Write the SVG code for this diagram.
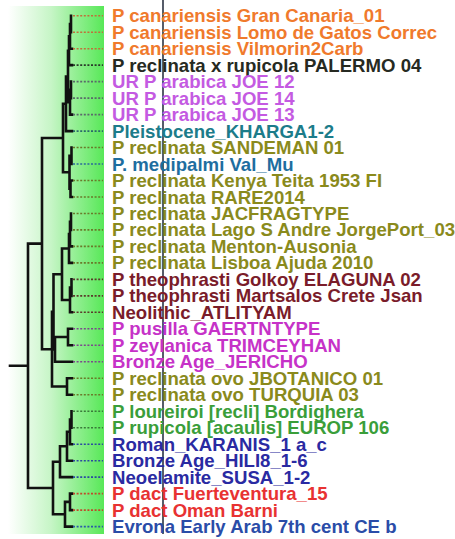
<svg xmlns="http://www.w3.org/2000/svg" width="455" height="539" viewBox="0 0 455 539">
<defs>
<linearGradient id="bg" x1="0" y1="0" x2="1" y2="0">
<stop offset="0" stop-color="#ffffff"/>
<stop offset="0.45" stop-color="#c6f5c6"/>
<stop offset="1" stop-color="#58e858"/>
</linearGradient>
<style>
.br{fill:none;stroke:#111;stroke-width:2.6;stroke-linecap:square}
.dl{stroke-width:1.6;stroke-dasharray:2 1.6;fill:none}
text{font-family:"Liberation Sans",Arial,sans-serif;font-weight:bold;font-size:18.6px}
.or{fill:#f07a2c}.or2{stroke:#c0703a}
.dk{fill:#262a22}.dk2{stroke:#2a3a2a}
.vi{fill:#c45ae2}.vi2{stroke:#5a6a6a}
.te{fill:#1c7c8a}.te2{stroke:#2a6a6a}
.ol{fill:#8a8a1c}.ol2{stroke:#6a7a2a}
.bl{fill:#1e6ea0}.bl2{stroke:#2a6a9a}
.rb{fill:#7a1c2a}.rb2{stroke:#5a3a2a}
.mg{fill:#c632c8}.mg2{stroke:#7a4a8a}
.gr{fill:#3a9e3a}.gr2{stroke:#3a7a3a}
.db{fill:#2a2aa2}.db2{stroke:#2a4aa0}
.rd{fill:#e83232}.rd2{stroke:#c04a2a}
.eb{fill:#2a4ca8}.eb2{stroke:#2a5aa8}
</style>
</defs>
<rect x="8" y="6" width="96" height="528" fill="url(#bg)"/>
<line x1="163" y1="0" x2="163" y2="534" stroke="#2c3444" stroke-width="1.6"/>
<g id="connectors">
<path class="br" d="M71 15.7V32.2 M70 24V48.7 M70 24H71 M70 48.7H72 M69 36.3V65.1 M69 36.3H70 M69 65.1H72 M71 81.6V98.1 M70 89.9V114.6 M70 89.9H71 M70 114.6H72 M68 50.7V102.2 M68 50.7H69 M68 102.2H70 M66 76.5V131.1 M66 76.5H68 M66 131.1H72 M71.5 147.5V164 M70.5 180.5V197 M70.5 180.5H72 M70.5 197H72 M69.5 155.75V188.75 M69.5 155.75H71.5 M69.5 188.75H70.5 M63 103.8V172.25 M63 103.8H66 M63 172.25H69.5 M71 213.5V229.9 M70 221.7V246.4 M70 221.7H71 M70 246.4H72 M69 234.05V262.9 M69 234.05H70 M69 262.9H72 M71.5 279.4V295.9 M70 287.65V312.3 M70 287.65H71.5 M70 312.3H72 M62 248.5V300 M62 248.5H69 M62 300H70 M68 328.8V345.3 M68 328.8H72 M68 345.3H72 M55 337.05V361.8 M55 337.05H68 M55 361.8H72 M53.5 274.25V349.4 M53.5 274.25H62 M53.5 349.4H55 M67 378.3V394.7 M67 378.3H72 M67 394.7H72 M52 311.8V386.5 M52 311.8H53.5 M52 386.5H67 M42 138V349.2 M42 138H63 M42 349.2H52 M71.5 411.2V427.7 M70 419.45V444.2 M70 419.45H71.5 M70 444.2H72 M67 431.8V460.7 M67 431.8H70 M67 460.7H72 M60 446.3V477.1 M60 446.3H67 M60 477.1H72 M70 493.6V510.1 M70 493.6H72 M70 510.1H72 M65 501.85V526.6 M65 501.85H70 M65 526.6H72 M53 461.7V514.2 M53 461.7H60 M53 514.2H65 M28 243.6V488 M28 243.6H42 M28 488H53 M10 365.8H28"/>
</g>
<g id="leaf01"><line class="dl or2" x1="73" y1="15.7" x2="103" y2="15.7"/><text class="or" x="112" y="22.2">P canariensis Gran Canaria_01</text></g>
<g id="leaf02"><line class="dl or2" x1="73" y1="32.2" x2="103" y2="32.2"/><text class="or" x="112" y="38.7">P canariensis Lomo de Gatos Correc</text></g>
<g id="leaf03"><line class="dl or2" x1="73" y1="48.7" x2="103" y2="48.7"/><text class="or" x="112" y="55.2">P canariensis Vilmorin2Carb</text></g>
<g id="leaf04"><line class="dl dk2" x1="73" y1="65.1" x2="103" y2="65.1"/><text class="dk" x="112" y="71.6">P reclinata x rupicola PALERMO 04</text></g>
<g id="leaf05"><line class="dl vi2" x1="73" y1="81.6" x2="103" y2="81.6"/><text class="vi" x="112" y="88.1">UR P arabica JOE 12</text></g>
<g id="leaf06"><line class="dl vi2" x1="73" y1="98.1" x2="103" y2="98.1"/><text class="vi" x="112" y="104.6">UR P arabica JOE 14</text></g>
<g id="leaf07"><line class="dl vi2" x1="73" y1="114.6" x2="103" y2="114.6"/><text class="vi" x="112" y="121.1">UR P arabica JOE 13</text></g>
<g id="leaf08"><line class="dl te2" x1="73" y1="131.1" x2="103" y2="131.1"/><text class="te" x="112" y="137.6">Pleistocene_KHARGA1-2</text></g>
<g id="leaf09"><line class="dl ol2" x1="73" y1="147.5" x2="103" y2="147.5"/><text class="ol" x="112" y="154">P reclinata SANDEMAN 01</text></g>
<g id="leaf10"><line class="dl bl2" x1="73" y1="164" x2="103" y2="164"/><text class="bl" x="112" y="170.5">P. medipalmi Val_Mu</text></g>
<g id="leaf11"><line class="dl ol2" x1="73" y1="180.5" x2="103" y2="180.5"/><text class="ol" x="112" y="187">P reclinata Kenya Teita 1953 FI</text></g>
<g id="leaf12"><line class="dl ol2" x1="73" y1="197" x2="103" y2="197"/><text class="ol" x="112" y="203.5">P reclinata RARE2014</text></g>
<g id="leaf13"><line class="dl ol2" x1="73" y1="213.5" x2="103" y2="213.5"/><text class="ol" x="112" y="220">P reclinata JACFRAGTYPE</text></g>
<g id="leaf14"><line class="dl ol2" x1="73" y1="229.9" x2="103" y2="229.9"/><text class="ol" x="112" y="236.4">P reclinata Lago S Andre JorgePort_03</text></g>
<g id="leaf15"><line class="dl ol2" x1="73" y1="246.4" x2="103" y2="246.4"/><text class="ol" x="112" y="252.9">P reclinata Menton-Ausonia</text></g>
<g id="leaf16"><line class="dl ol2" x1="73" y1="262.9" x2="103" y2="262.9"/><text class="ol" x="112" y="269.4">P reclinata Lisboa Ajuda 2010</text></g>
<g id="leaf17"><line class="dl rb2" x1="73" y1="279.4" x2="103" y2="279.4"/><text class="rb" x="112" y="285.9">P theophrasti Golkoy ELAGUNA 02</text></g>
<g id="leaf18"><line class="dl rb2" x1="73" y1="295.9" x2="103" y2="295.9"/><text class="rb" x="112" y="302.4">P theophrasti Martsalos Crete Jsan</text></g>
<g id="leaf19"><line class="dl rb2" x1="73" y1="312.3" x2="103" y2="312.3"/><text class="rb" x="112" y="318.8">Neolithic_ATLITYAM</text></g>
<g id="leaf20"><line class="dl mg2" x1="73" y1="328.8" x2="103" y2="328.8"/><text class="mg" x="112" y="335.3">P pusilla GAERTNTYPE</text></g>
<g id="leaf21"><line class="dl mg2" x1="73" y1="345.3" x2="103" y2="345.3"/><text class="mg" x="112" y="351.8">P zeylanica TRIMCEYHAN</text></g>
<g id="leaf22"><line class="dl mg2" x1="73" y1="361.8" x2="103" y2="361.8"/><text class="mg" x="112" y="368.3">Bronze Age_JERICHO</text></g>
<g id="leaf23"><line class="dl ol2" x1="73" y1="378.3" x2="103" y2="378.3"/><text class="ol" x="112" y="384.8">P reclinata ovo JBOTANICO 01</text></g>
<g id="leaf24"><line class="dl ol2" x1="73" y1="394.7" x2="103" y2="394.7"/><text class="ol" x="112" y="401.2">P reclinata ovo TURQUIA 03</text></g>
<g id="leaf25"><line class="dl gr2" x1="73" y1="411.2" x2="103" y2="411.2"/><text class="gr" x="112" y="417.7">P loureiroi [recli] Bordighera</text></g>
<g id="leaf26"><line class="dl gr2" x1="73" y1="427.7" x2="103" y2="427.7"/><text class="gr" x="112" y="434.2">P rupicola [acaulis] EUROP 106</text></g>
<g id="leaf27"><line class="dl db2" x1="73" y1="444.2" x2="103" y2="444.2"/><text class="db" x="112" y="450.7">Roman_KARANIS_1 a_c</text></g>
<g id="leaf28"><line class="dl db2" x1="73" y1="460.7" x2="103" y2="460.7"/><text class="db" x="112" y="467.2">Bronze Age_HILI8_1-6</text></g>
<g id="leaf29"><line class="dl db2" x1="73" y1="477.1" x2="103" y2="477.1"/><text class="db" x="112" y="483.6">Neoelamite_SUSA_1-2</text></g>
<g id="leaf30"><line class="dl rd2" x1="73" y1="493.6" x2="103" y2="493.6"/><text class="rd" x="112" y="500.1">P dact Fuerteventura_15</text></g>
<g id="leaf31"><line class="dl rd2" x1="73" y1="510.1" x2="103" y2="510.1"/><text class="rd" x="112" y="516.6">P dact Oman Barni</text></g>
<g id="leaf32"><line class="dl eb2" x1="73" y1="526.6" x2="103" y2="526.6"/><text class="eb" x="112" y="533.1">Evrona Early Arab 7th cent CE b</text></g>
</svg>
